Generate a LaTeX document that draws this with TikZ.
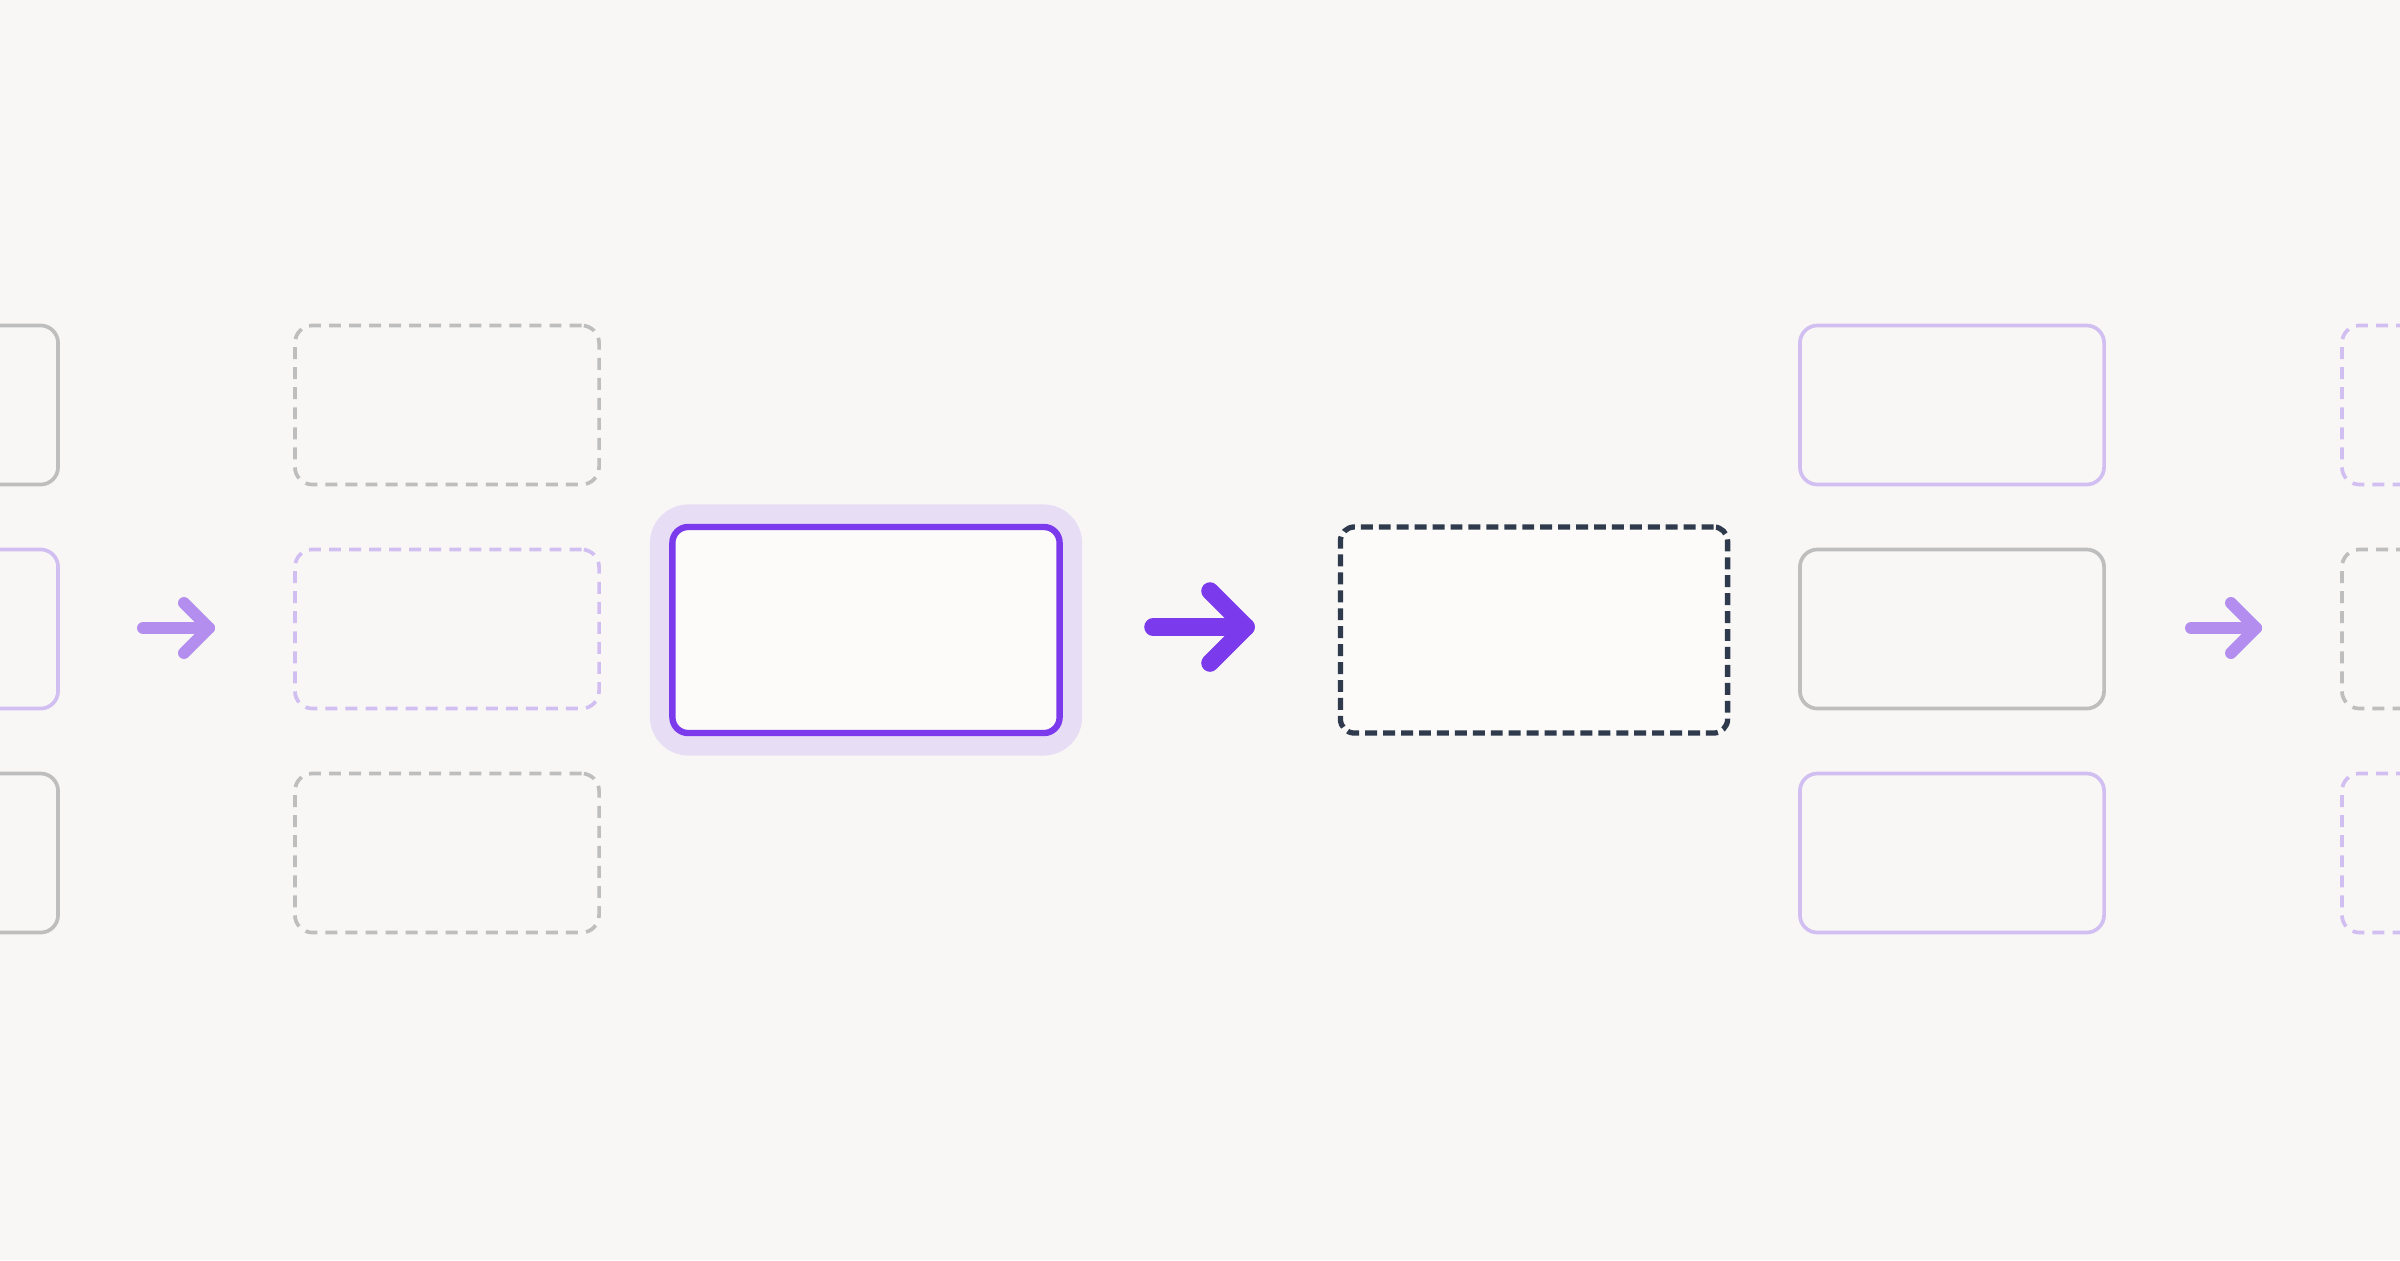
\documentclass[tikz,border=0pt]{standalone}
\definecolor{bg}{HTML}{F8F7F6}
\definecolor{boxfill}{HTML}{FCFBFA}
\definecolor{grayline}{HTML}{BEBEBE}
\definecolor{lavline}{HTML}{D2BFF2}
\definecolor{purple}{HTML}{7C3AED}
\definecolor{halo}{HTML}{E7DDF5}
\definecolor{lightarrow}{HTML}{B38EEE}
\definecolor{slate}{HTML}{2F3B4C}
\tikzset{
  basebox/.style={rectangle, inner sep=0pt, minimum width=3.04cm, minimum height=1.59cm, rounded corners=5pt, fill=bg, line width=1.05pt},
  graybox/.style={basebox, draw=grayline},
  lavbox/.style={basebox, draw=lavline},
  graydash/.style={basebox, draw=grayline, dash pattern=on 3.4pt off 2.3pt},
  lavdash/.style={basebox, draw=lavline, dash pattern=on 3.4pt off 2.3pt},
  haloshape/.style={rectangle, inner sep=0pt, minimum width=4.32cm, minimum height=2.51cm, rounded corners=11pt, fill=halo},
  focusbox/.style={rectangle, inner sep=0pt, minimum width=3.87cm, minimum height=2.06cm, rounded corners=4.5pt, fill=boxfill, draw=purple, line width=1.8pt},
  darkdash/.style={rectangle, inner sep=0pt, minimum width=3.87cm, minimum height=2.06cm, rounded corners=4pt, fill=boxfill, draw=slate, line width=1.5pt, dash pattern=on 3.4pt off 1.7pt},
  smallarrow/.style={draw=lightarrow, line width=3.4pt, line cap=round, line join=round},
  bigarrow/.style={draw=purple, line width=5pt, line cap=round, line join=round}
}
\begin{document}
\begin{tikzpicture}[x=0.01cm, y=-0.01cm]
\path[use as bounding box, fill=bg] (0,0) rectangle (2400,1260);
\clip (0,0) rectangle (2400,1260);
% left partial column
\node[graybox] (l1) at (-94,405) {};
\node[lavbox]  (l2) at (-94,629) {};
\node[graybox] (l3) at (-94,853) {};
% second column (dashed)
\node[graydash] (c1) at (447,405) {};
\node[lavdash]  (c2) at (447,629) {};
\node[graydash] (c3) at (447,853) {};
% focus
\node[haloshape] (halo) at (866,630) {};
\node[focusbox] (focus) at (866,630) {};
% dark dashed
\node[darkdash] (target) at (1534,630) {};
% right column
\node[lavbox]  (r1) at (1952,405) {};
\node[graybox] (r2) at (1952,629) {};
\node[lavbox]  (r3) at (1952,853) {};
% right partial column
\node[lavdash]  (p1) at (2494,405) {};
\node[graydash] (p2) at (2494,629) {};
\node[lavdash]  (p3) at (2494,853) {};
% arrows
\coordinate (a1s) at (143,628);
\coordinate (a1t) at (209,628);
\coordinate (a1u) at (184,603);
\coordinate (a1d) at (184,653);
\draw[smallarrow] (a1s) -- (a1t);
\draw[smallarrow] (a1u) -- (a1t) -- (a1d);
\coordinate (a2s) at (1153,627);
\coordinate (a2t) at (1246,627);
\coordinate (a2u) at (1210,591);
\coordinate (a2d) at (1210,663);
\draw[bigarrow] (a2s) -- (a2t);
\draw[bigarrow] (a2u) -- (a2t) -- (a2d);
\coordinate (a3s) at (2191,628);
\coordinate (a3t) at (2256,628);
\coordinate (a3u) at (2231,603);
\coordinate (a3d) at (2231,653);
\draw[smallarrow] (a3s) -- (a3t);
\draw[smallarrow] (a3u) -- (a3t) -- (a3d);
\end{tikzpicture}
\end{document}
